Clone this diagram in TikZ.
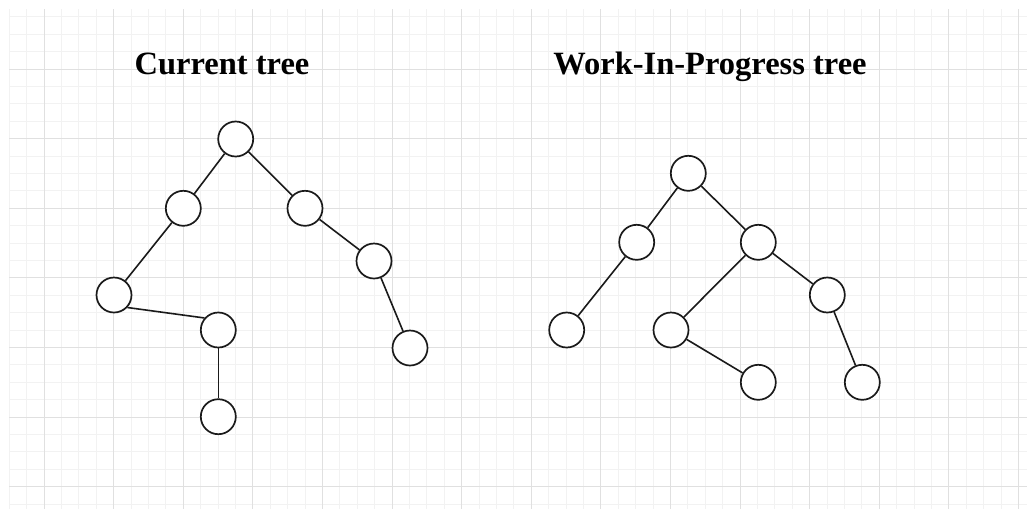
\documentclass[tikz,border=0pt]{standalone}
\usepackage{fontspec}
\setmainfont{Liberation Serif}
\definecolor{minorgrid}{HTML}{F2F2F2}
\definecolor{majorgrid}{HTML}{E0E0E0}
\definecolor{stroke}{HTML}{1A1A1A}
\tikzset{
  treenode/.style={circle, draw=stroke, line width=1.7pt, fill=white, minimum size=35pt, inner sep=0pt},
  treeedge/.style={draw=stroke, line width=1.6pt},
  title/.style={font=\fontsize{32.5}{38}\selectfont\bfseries, inner sep=0pt, anchor=base}
}
\begin{document}
\begin{tikzpicture}[x=1pt,y=-1pt]
\useasboundingbox (0,0) rectangle (1027,509);
\fill[white] (0,0) rectangle (1027,509);
\begin{scope}
\clip (9,9) rectangle (1027,509);
\foreach \k in {0,...,58} {
  \draw[minorgrid, line width=0.8pt] ({9.2+17.4*\k},9) -- ({9.2+17.4*\k},509);
}
\foreach \k in {0,...,29} {
  \draw[minorgrid, line width=0.8pt] (9,{-0.6+17.4*\k}) -- (1027,{-0.6+17.4*\k});
}
\foreach \k in {0,...,14} {
  \draw[majorgrid, line width=1pt] ({44+69.6*\k},9) -- ({44+69.6*\k},509);
}
\foreach \k in {1,...,7} {
  \draw[majorgrid, line width=1pt] (9,{-0.6+69.6*\k}) -- (1027,{-0.6+69.6*\k});
}
\end{scope}

\node[title] (t1) at (222,74) {Current tree};
\node[title] (t2) at (710,74) {Work-In-Progress tree};

% Current tree
\node[treenode] (a) at (235.7,139) {};
\node[treenode] (b) at (183.3,208.3) {};
\node[treenode] (c) at (305,208.3) {};
\node[treenode] (d) at (114,295) {};
\node[treenode] (e) at (218.3,330) {};
\node[treenode] (f) at (218.3,416.7) {};
\node[treenode] (g) at (374,261) {};
\node[treenode] (h) at (410,348) {};
\draw[treeedge] (a) -- (b);
\draw[treeedge] (a) -- (c);
\draw[treeedge] (b) -- (d);
\draw[treeedge] (d.-43) -- (e.139);
\draw[treeedge] (e) -- (f);
\draw[treeedge] (c) -- (g);
\draw[treeedge] (g) -- (h);

% Work-In-Progress tree
\node[treenode] (p) at (688.3,173.3) {};
\node[treenode] (q) at (636.7,242.3) {};
\node[treenode] (r) at (758.3,242.3) {};
\node[treenode] (s) at (566.7,330) {};
\node[treenode] (u) at (671,330) {};
\node[treenode] (v) at (827.3,295) {};
\node[treenode] (w) at (758.3,382.3) {};
\node[treenode] (z) at (862.3,382.3) {};
\draw[treeedge] (p) -- (q);
\draw[treeedge] (p) -- (r);
\draw[treeedge] (q) -- (s);
\draw[treeedge] (r) -- (u);
\draw[treeedge] (r) -- (v);
\draw[treeedge] (u) -- (w);
\draw[treeedge] (v) -- (z);
\end{tikzpicture}
\end{document}
